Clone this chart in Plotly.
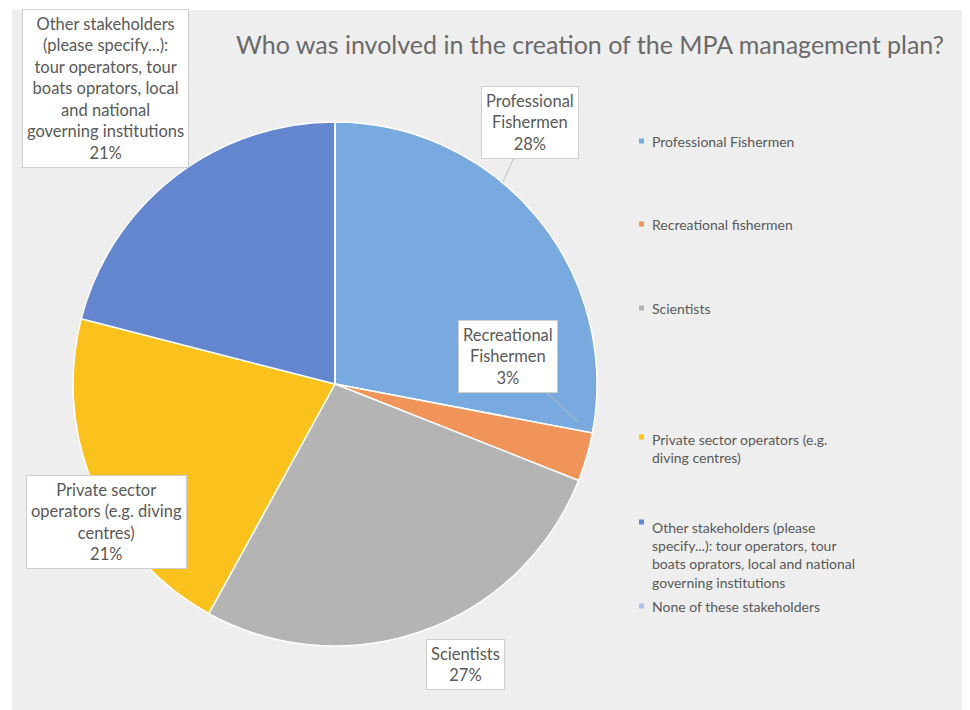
import plotly.graph_objects as go

title = "Who was involved in the creation of the MPA management plan?"
categories = [
    "Professional Fishermen",
    "Recreational fishermen",
    "Scientists",
    "Private sector operators (e.g. diving centres)",
    "Other stakeholders (please specify...): tour operators, tour boats oprators, local and national governing institutions",
    "None of these stakeholders",
]
values = [28, 3, 27, 21, 21, 0]
colors = ["#78aadf", "#f0945a", "#b4b4b4", "#fbc21e", "#6386cf", "#a9c0e4"]

callout_text = [
    "Professional<br>Fishermen<br>28%",
    "Recreational<br>Fishermen<br>3%",
    "Scientists<br>27%",
    "Private sector<br>operators (e.g. diving<br>centres)<br>21%",
    "Other stakeholders<br>(please specify...):<br>tour operators, tour<br>boats oprators, local<br>and national<br>governing institutions<br>21%",
]
legend_lines = [
    "Professional Fishermen",
    "Recreational fishermen",
    "Scientists",
    "Private sector operators (e.g.<br>diving centres)",
    "Other stakeholders (please<br>specify...): tour operators, tour<br>boats oprators, local and national<br>governing institutions",
    "None of these stakeholders",
]

W, H = 970, 710
OFF = 8  # page body margin: axis coords == page pixels
cx, cy, r = 335, 384, 262
FONT = "Lato, Open Sans, sans-serif"

fig = go.Figure()
fig.add_trace(go.Pie(
    labels=categories, values=values, sort=False, direction="clockwise",
    rotation=0, textinfo="none", hoverinfo="label+percent",
    marker=dict(colors=colors, line=dict(color="white", width=1.5)),
    domain=dict(x=[(cx - OFF - r) / W, (cx - OFF + r) / W],
                y=[(H - (cy - OFF) - r) / H, (H - (cy - OFF) + r) / H]),
    showlegend=False,
))

shapes = [dict(type="rect", xref="x", yref="y", x0=12, x1=980, y0=10, y1=720,
               fillcolor="#eeeeee", line=dict(width=0), layer="below")]

annotations = [dict(text=title, x=590, y=44, xref="x", yref="y", showarrow=False,
                    font=dict(family=FONT, size=25, color="#6a6a6a"))]

box_pos = [(530, 122), (508, 356), (465, 664), (106, 522), (105, 88)]
tips = [(503, 182), (578, 422), (445, 642), None, None]
for txt, (bx, by), tip in zip(callout_text, box_pos, tips):
    a = dict(text=txt, xref="x", yref="y", font=dict(family=FONT, size=16.5, color="#595959"),
             bgcolor="white", bordercolor="#cfcfcf", borderwidth=1, borderpad=4, align="center")
    if tip is None:
        a.update(x=bx, y=by, showarrow=False)
    else:
        a.update(x=tip[0], y=tip[1], ax=bx, ay=by, axref="x", ayref="y", showarrow=True,
                 arrowhead=0, arrowwidth=1, arrowcolor="#bfbfbf", standoff=0)
    annotations.append(a)

legend_y = [141, 224, 308, 448, 555, 606]
for lbl, col, ly in zip(legend_lines, colors, legend_y):
    nlines = lbl.count("<br>") + 1
    top = ly - (nlines - 1) * 22 / 2
    shapes.append(dict(type="rect", xref="x", yref="y", x0=639, x1=644, y0=top - 2.5, y1=top + 2.5,
                       fillcolor=col, line=dict(width=0)))
    annotations.append(dict(text=lbl, x=650, y=ly, xref="x", yref="y", xanchor="left",
                            showarrow=False, align="left",
                            font=dict(family=FONT, size=14, color="#595959")))

fig.update_layout(
    width=W, height=H, margin=dict(l=0, r=0, t=0, b=0),
    paper_bgcolor="white", plot_bgcolor="rgba(0,0,0,0)",
    xaxis=dict(range=[OFF, W + OFF], visible=False, fixedrange=True),
    yaxis=dict(range=[H + OFF, OFF], visible=False, fixedrange=True),
    shapes=shapes, annotations=annotations, showlegend=False,
)
fig.write_html("out.html")
